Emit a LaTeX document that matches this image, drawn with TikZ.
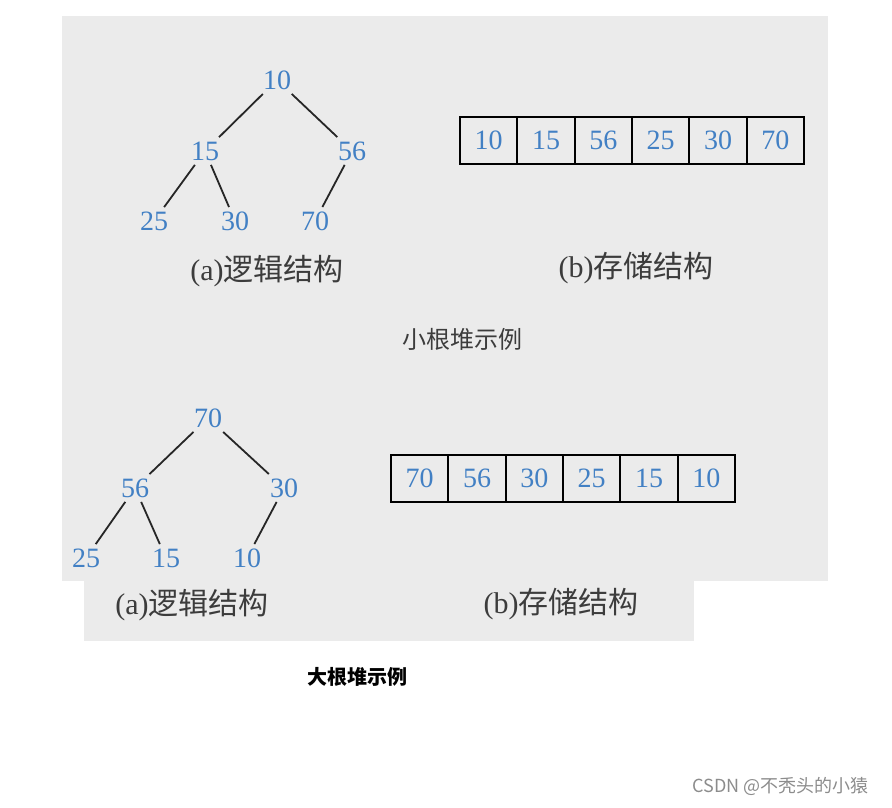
\documentclass[tikz,border=0pt]{standalone}
\usepackage{fontspec}
\setmainfont{Liberation Serif}
\newfontfamily\cjk{Noto Sans CJK SC}
\usetikzlibrary{positioning}
\definecolor{numblue}{RGB}{66,128,196}
\definecolor{panel}{RGB}{235,235,235}
\definecolor{cap}{RGB}{60,60,60}
\tikzset{
  num/.style={text=numblue,inner sep=2pt,font=\fontsize{14}{16}\selectfont},
  cell/.style={draw,line width=1pt,minimum width=28.7pt,minimum height=23.5pt,inner sep=0pt,text=numblue,font=\fontsize{14}{16}\selectfont},
  sub/.style={text=cap,font=\fontsize{15}{17}\selectfont},
  edge/.style={line width=0.9pt,draw=black!85},
  every picture/.style={line width=0.5pt},
}
\begin{document}
\begin{tikzpicture}[x=0.5pt,y=-0.5pt]
\useasboundingbox (0,0) rectangle (892,807);
\fill[panel] (62,16) rectangle (828,581);
\fill[panel] (84,581) rectangle (694,641);
% small heap
\node[num] (ta) at (277,80){10}; \node[num] (tb) at (205,151){15};
\node[num] (tc) at (352,151){56}; \node[num] (td) at (154,221){25};
\node[num] (te) at (235,221){30}; \node[num] (tf) at (315,221){70};
\draw[edge] (ta)--(tb); \draw[edge] (ta)--(tc); \draw[edge] (tb)--(td);
\draw[edge] (tb)--(te); \draw[edge] (tc)--(tf);
\node[sub] (la) at (267,271){(a)\cjk 逻辑结构};
\node[cell] (a1) at (488.7,140.5){10}; \node[cell] (a2) at (546,140.5){15};
\node[cell] (a3) at (603.3,140.5){56}; \node[cell] (a4) at (660.7,140.5){25};
\node[cell] (a5) at (718,140.5){30}; \node[cell] (a6) at (775.3,140.5){70};
\node[sub] (lb) at (636,268){(b)\cjk 存储结构};
\node[text=cap,font=\cjk\fontsize{12}{14}\selectfont] (small) at (462,339){小根堆示例};
% big heap
\node[num] (ua) at (208,418){70}; \node[num] (ub) at (135,488){56};
\node[num] (uc) at (284,488){30}; \node[num] (ud) at (86,558){25};
\node[num] (ue) at (166,558){15}; \node[num] (uf) at (247,558){10};
\draw[edge] (ua)--(ub); \draw[edge] (ua)--(uc); \draw[edge] (ub)--(ud);
\draw[edge] (ub)--(ue); \draw[edge] (uc)--(uf);
\node[sub] (lc) at (192,605){(a)\cjk 逻辑结构};
\node[cell] (b1) at (419.7,478.5){70}; \node[cell] (b2) at (477,478.5){56};
\node[cell] (b3) at (534.3,478.5){30}; \node[cell] (b4) at (591.7,478.5){25};
\node[cell] (b5) at (649,478.5){15}; \node[cell] (b6) at (706.3,478.5){10};
\node[sub] (ld) at (561,604){(b)\cjk 存储结构};
\node[font=\cjk\bfseries\fontsize{10}{12}\selectfont] (big) at (357,677){大根堆示例};
\node[anchor=east,text=black!45,font=\cjk\fontsize{9}{11}\selectfont] (mark) at (876,786){CSDN @不秃头的小猿};
\end{tikzpicture}
\end{document}
